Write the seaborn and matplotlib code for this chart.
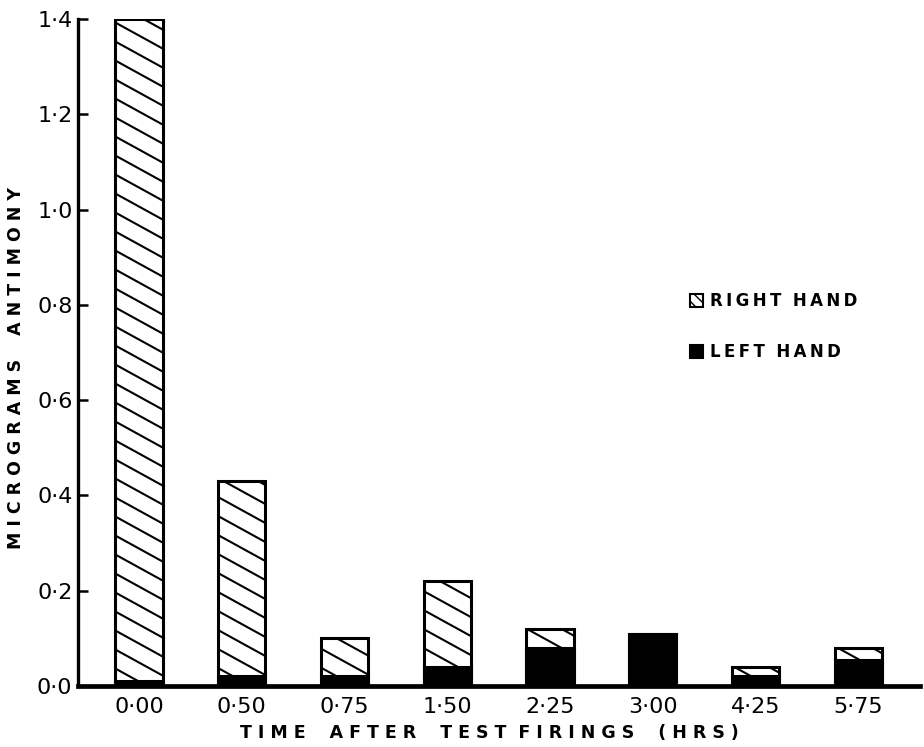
import numpy as np
import pandas as pd
import matplotlib
matplotlib.use("Agg")
import matplotlib.pyplot as plt
from matplotlib.collections import LineCollection
from matplotlib.patches import Patch
import seaborn as sns

# values (micrograms antimony)
times = ["0·00", "0·50", "0·75", "1·50", "2·25", "3·00", "4·25", "5·75"]
right_hand = [1.40, 0.43, 0.10, 0.22, 0.12, 0.11, 0.04, 0.08]
left_hand = [0.01, 0.02, 0.02, 0.04, 0.08, 0.11, 0.02, 0.055]
yticks = [0.0, 0.2, 0.4, 0.6, 0.8, 1.0, 1.2, 1.4]

df = pd.DataFrame({"time": times, "right": right_hand, "left": left_hand})


def spaced(words, gaps, letter=" "):
    # fake letter spacing for the stencil-style labels
    out = letter.join(words[0])
    for w, g in zip(words[1:], gaps):
        out += g + letter.join(w)
    return out


sns.set_style("white")
plt.rcParams["font.family"] = ["DejaVu Sans"]
plt.rcParams["text.color"] = "black"
plt.rcParams["axes.labelcolor"] = "black"
plt.rcParams["xtick.color"] = "black"
plt.rcParams["ytick.color"] = "black"

fig = plt.figure(figsize=(9.24, 7.47), dpi=100)
ax = fig.add_axes([78 / 924, 61 / 747, 842 / 924, 667 / 747])

# right hand drawn first (hatched), left hand on top in black
sns.barplot(data=df, x="time", y="right", order=times, color="white",
            saturation=1, edgecolor="black", linewidth=2.2, width=0.46,
            errorbar=None, ax=ax)
right_patches = list(ax.patches)
sns.barplot(data=df, x="time", y="left", order=times, color="black",
            saturation=1, edgecolor="black", linewidth=2.2, width=0.46,
            errorbar=None, ax=ax)
for p in ax.patches[len(right_patches):]:
    p.set_zorder(3)
for p in right_patches:
    p.set_zorder(1)

# shallow diagonal hatching, clipped to each right-hand bar
slope = -0.55 * 842 / 667
step = 19 / 667
segs = [[(0, c), (1, c + slope)] for c in np.arange(0, 1 - slope + step, step)]
for p in right_patches:
    lc = LineCollection(segs, colors="black", linewidths=1.5,
                        transform=ax.transAxes, zorder=2)
    ax.add_collection(lc, autolim=False)
    lc.set_clip_path(p)

ax.set_xlim(-0.593, 7.6)
ax.set_ylim(0, 1.4)
ax.set_yticks(yticks)
ax.set_yticklabels([f"{v:.1f}".replace(".", "·") for v in yticks])

for s in ["top", "right"]:
    ax.spines[s].set_visible(False)
ax.spines["left"].set_linewidth(2.4)
ax.spines["bottom"].set_linewidth(3.4)
ax.spines["left"].set_color("black")
ax.spines["bottom"].set_color("black")
ax.spines["left"].set_zorder(4)
ax.spines["bottom"].set_zorder(4)

ax.tick_params(axis="y", direction="in", length=7, width=1.8, pad=4,
               labelsize=16, left=True)
ax.tick_params(axis="x", length=0, pad=8, labelsize=16)

ax.set_xlabel(spaced(["TIME", "AFTER", "TEST", "FIRINGS", "(HRS)"],
                     ["    ", "    ", "  ", "    "]),
              fontsize=12.5, fontweight="bold")
ax.xaxis.set_label_coords(0.489, -0.057)
ax.set_ylabel(spaced(["MICROGRAMS", "ANTIMONY"], ["    "]),
              fontsize=12.5, fontweight="bold")
ax.yaxis.set_label_coords(-0.063, 0.477)

handles = [Patch(facecolor="white", edgecolor="black", hatch="\\\\\\", linewidth=1.5),
           Patch(facecolor="black", edgecolor="black", linewidth=1.5)]
labels = [spaced(["RIGHT", "HAND"], ["  "], letter="\u2009"),
          spaced(["LEFT", "HAND"], ["  "], letter="\u2009")]
ax.legend(handles, labels, loc="upper left", bbox_to_anchor=(0.727, 0.590),
          frameon=False, handlelength=0.8, handleheight=0.8, handletextpad=0.4,
          labelspacing=1.95, borderpad=0, borderaxespad=0,
          prop={"family": "DejaVu Sans", "weight": "bold", "size": 12})

fig.savefig("out.png", dpi=100)
